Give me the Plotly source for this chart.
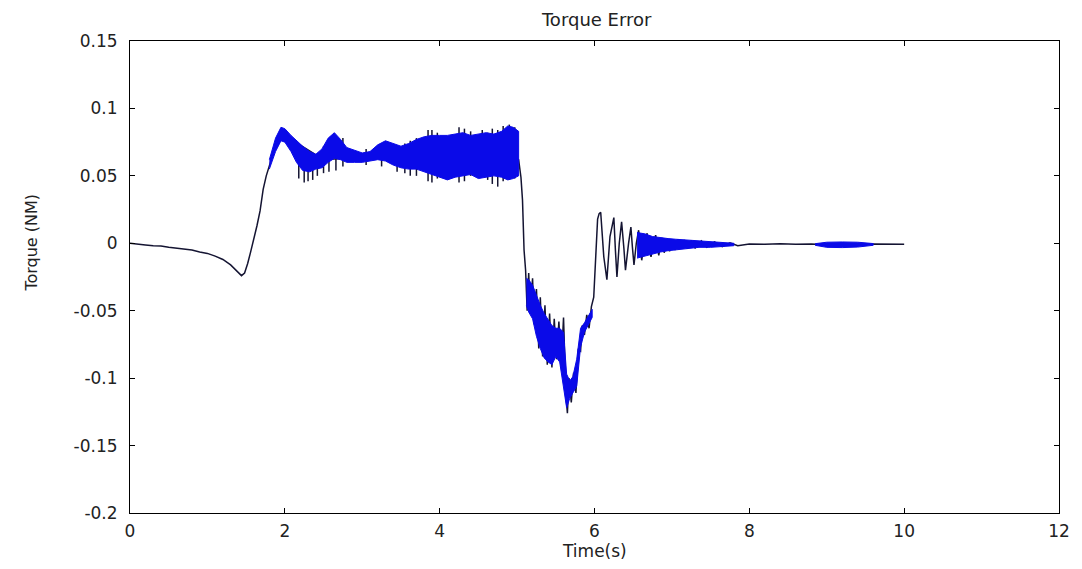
import plotly.graph_objects as go

# ---------------- data ----------------
# main trace (dark line)
line_t = [0.0, 0.1, 0.2, 0.3, 0.4, 0.5, 0.6, 0.7, 0.8, 0.9, 1.0, 1.1, 1.2, 1.3, 1.38, 1.44, 1.48,
          1.52, 1.56, 1.60, 1.64, 1.68, 1.72, 1.76, 1.80, 1.85, 1.90, 1.95, 2.0, 2.5, 3.0, 3.5, 4.0,
          4.5, 4.9, 5.02, 5.05, 5.07, 5.09, 5.11,
          5.13, 5.15, 5.17, 5.20, 5.22, 5.25, 5.28, 5.30, 5.33, 5.36, 5.39, 5.42, 5.45, 5.48, 5.51,
          5.54, 5.57, 5.60, 5.63, 5.65, 5.67, 5.70, 5.73, 5.76, 5.79, 5.82, 5.84, 5.87, 5.90, 5.93,
          5.96, 5.99, 6.01, 6.04, 6.06, 6.08,
          6.12, 6.16, 6.20, 6.25, 6.27, 6.29, 6.32, 6.35, 6.38, 6.40, 6.44, 6.47, 6.49, 6.51, 6.54,
          6.57, 6.59, 6.61, 6.64, 6.68, 6.70, 6.73, 6.76, 6.79, 6.81, 6.83, 6.87, 6.90, 6.94, 6.97,
          7.01, 7.04, 7.08, 7.12, 7.16, 7.20, 7.25, 7.30, 7.38, 7.45, 7.55, 7.65, 7.75, 7.85, 8.0,
          8.2, 8.4, 8.6, 8.8, 9.0, 9.2, 9.4, 9.6, 9.8, 10.0]
line_v = [0.0, -0.0008, -0.0012, -0.0018, -0.002, -0.003, -0.0035, -0.0045, -0.005, -0.0065,
          -0.0075, -0.0095, -0.012, -0.016, -0.021, -0.024, -0.022,
          -0.015, -0.006, 0.003, 0.013, 0.024, 0.040, 0.050, 0.058, 0.068, 0.076, 0.081, 0.080,
          0.062, 0.064, 0.064, 0.065, 0.065, 0.066, 0.062, 0.049, 0.032, -0.005, -0.020,
          -0.050, -0.022, -0.052, -0.026, -0.060, -0.034, -0.078, -0.040, -0.084, -0.046, -0.090,
          -0.052, -0.092, -0.056, -0.086, -0.058, -0.092, -0.055, -0.112, -0.126, -0.100, -0.118,
          -0.096, -0.111, -0.079, -0.080, -0.061, -0.068, -0.053, -0.063, -0.047, -0.040, -0.013,
          0.018, 0.022, 0.023,
          -0.010, -0.027, 0.005, 0.019, -0.005, -0.025, 0.000, 0.016, -0.004, -0.020, 0.000,
          0.012, -0.003, -0.016, 0.000, 0.0097, -0.002, -0.0126, 0.000, 0.0074, -0.002, -0.010,
          0.000, 0.006, -0.002, -0.009, 0.004, -0.007, 0.0035, -0.006, 0.003, -0.005, 0.003,
          -0.004, 0.0025, -0.004, 0.002, -0.0035, 0.0018, -0.003, 0.001, -0.0025, 0.0003, -0.0018,
          -0.0005, -0.0008, -0.0004, -0.0008, -0.0006, -0.001, -0.0008, -0.0012, -0.0006,
          -0.0008, -0.0007]

# dense-oscillation envelopes (blue band)
bandA_t = [1.80, 1.88, 1.95, 2.00, 2.08, 2.15, 2.23, 2.32, 2.40, 2.48, 2.56, 2.64, 2.72, 2.80,
           2.90, 3.00, 3.10, 3.20, 3.30, 3.40, 3.50, 3.60, 3.70, 3.80, 3.90, 4.00, 4.10, 4.20,
           4.30, 4.40, 4.50, 4.60, 4.70, 4.80, 4.88, 4.95, 5.02]
bandA_hi = [0.062, 0.078, 0.086, 0.085, 0.080, 0.076, 0.072, 0.068, 0.066, 0.070, 0.078, 0.082,
            0.077, 0.071, 0.069, 0.067, 0.068, 0.073, 0.076, 0.074, 0.072, 0.074, 0.077, 0.079,
            0.080, 0.080, 0.080, 0.081, 0.082, 0.080, 0.081, 0.082, 0.081, 0.083, 0.087, 0.086,
            0.083]
bandA_lo = [0.055, 0.068, 0.076, 0.075, 0.068, 0.060, 0.054, 0.053, 0.055, 0.056, 0.060, 0.063,
            0.062, 0.060, 0.060, 0.060, 0.061, 0.062, 0.061, 0.058, 0.056, 0.055, 0.055, 0.053,
            0.051, 0.049, 0.047, 0.049, 0.050, 0.051, 0.048, 0.049, 0.050, 0.049, 0.047, 0.048,
            0.050]

bandB_t = [5.12, 5.15, 5.20, 5.25, 5.30, 5.35, 5.40, 5.45, 5.50, 5.55, 5.60, 5.64, 5.68, 5.72,
           5.77, 5.82, 5.87, 5.92, 5.97]
bandB_hi = [-0.026, -0.027, -0.031, -0.039, -0.046, -0.052, -0.057, -0.061, -0.063, -0.063,
            -0.066, -0.097, -0.102, -0.099, -0.086, -0.063, -0.059, -0.054, -0.049]
bandB_lo = [-0.046, -0.051, -0.056, -0.069, -0.078, -0.085, -0.088, -0.090, -0.084, -0.088,
            -0.108, -0.122, -0.115, -0.111, -0.106, -0.077, -0.066, -0.060, -0.055]

bandC_t = [6.55, 6.65, 6.75, 6.85, 6.95, 7.05, 7.20, 7.35, 7.50, 7.65, 7.80]
bandC_hi = [0.008, 0.007, 0.005, 0.004, 0.0035, 0.003, 0.0025, 0.002, 0.0012, 0.0006, 0.0]
bandC_lo = [-0.011, -0.009, -0.008, -0.0065, -0.0055, -0.0045, -0.0038, -0.003, -0.003,
            -0.0025, -0.0018]

bandD_t = [8.85, 9.0, 9.2, 9.4, 9.6]
bandD_hi = [-0.0003, 0.0008, 0.0010, 0.0008, -0.0002]
bandD_lo = [-0.0015, -0.0030, -0.0032, -0.0028, -0.0015]

# isolated spikes sticking out of the dense band
spike_t = [2.18, 2.25, 2.30, 2.36, 2.42, 2.50, 2.57, 2.66, 2.75, 3.05, 3.25, 3.45, 3.55, 3.62,
           3.70, 3.85, 3.90, 3.97, 4.25, 4.32, 4.40, 4.55, 4.62, 4.68, 4.75, 4.82, 4.90, 4.97]
spike_lo = [0.048, 0.045, 0.046, 0.047, 0.050, 0.052, 0.053, 0.054, 0.057, 0.058, 0.057, 0.053,
            0.052, 0.050, 0.050, 0.046, 0.045, 0.048, 0.045, 0.046, 0.050, 0.049, 0.047, 0.044,
            0.042, 0.046, 0.047, 0.048]
spike_hi = [0.068, 0.066, 0.064, 0.066, 0.066, 0.072, 0.075, 0.080, 0.078, 0.070, 0.074, 0.072,
            0.074, 0.076, 0.078, 0.084, 0.084, 0.082, 0.086, 0.085, 0.083, 0.084, 0.082, 0.085,
            0.084, 0.087, 0.088, 0.086]

x_ticks = [0, 2, 4, 6, 8, 10, 12]
x_labels = ["0", "2", "4", "6", "8", "10", "12"]
y_ticks = [0.15, 0.1, 0.05, 0, -0.05, -0.1, -0.15, -0.2]
y_labels = ["0.15", "0.1", "0.05", "0", "-0.05", "-0.1", "-0.15", "-0.2"]

DARK = "#141432"
BLUE = "#0a0ae8"

fig = go.Figure()

# main line
fig.add_trace(go.Scatter(x=line_t, y=line_v, mode="lines",
                         line=dict(color=DARK, width=1.5), hoverinfo="skip"))

# spikes as vertical segments
sx, sy = [], []
for t, lo, hi in zip(spike_t, spike_lo, spike_hi):
    sx += [t, t, None]
    sy += [lo, hi, None]
fig.add_trace(go.Scatter(x=sx, y=sy, mode="lines",
                         line=dict(color=DARK, width=1.5), hoverinfo="skip"))

# blue bands
for bt, bh, bl in [(bandA_t, bandA_hi, bandA_lo), (bandB_t, bandB_hi, bandB_lo),
                   (bandC_t, bandC_hi, bandC_lo), (bandD_t, bandD_hi, bandD_lo)]:
    fig.add_trace(go.Scatter(x=list(bt) + list(bt)[::-1], y=list(bh) + list(bl)[::-1],
                             mode="lines", fill="toself", fillcolor=BLUE,
                             line=dict(color=BLUE, width=1), hoverinfo="skip"))

FONT = "DejaVu Sans"
axis_common = dict(showline=True, linecolor="black", linewidth=1, mirror="ticks",
                   ticks="inside", ticklen=5, tickcolor="black", showgrid=False,
                   zeroline=False, tickfont=dict(family=FONT, size=17, color="#222"))

fig.update_layout(
    width=1082, height=569,
    margin=dict(l=130, r=19, t=41, b=56),
    paper_bgcolor="white", plot_bgcolor="white",
    showlegend=False,
    title=dict(text="Torque Error", x=0.5515, xanchor="center", y=0.965, yanchor="middle",
               font=dict(family=FONT, size=18, color="#222")),
    xaxis=dict(range=[0, 12], tickvals=x_ticks, ticktext=x_labels, ticklabelstandoff=3,
               **axis_common),
    yaxis=dict(range=[-0.2, 0.15], tickvals=y_ticks, ticktext=y_labels, ticklabelstandoff=8,
               **axis_common),
    annotations=[
        dict(text="Time(s)", xref="paper", yref="paper", x=0.5, y=-0.0805,
             xanchor="center", yanchor="middle", showarrow=False,
             font=dict(family=FONT, size=17, color="#222")),
        dict(text="Torque (NM)", xref="paper", yref="paper", x=-0.107, y=0.572,
             xanchor="center", yanchor="middle", showarrow=False, textangle=-90,
             font=dict(family=FONT, size=16, color="#222")),
    ],
)

fig.write_html("out.html")
